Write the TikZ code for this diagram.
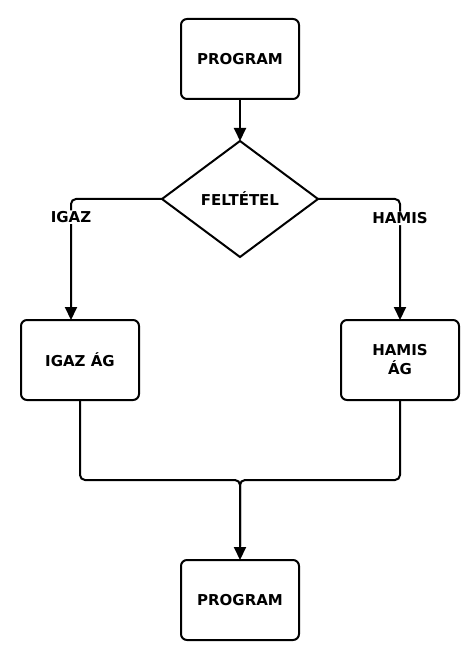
\documentclass[tikz,border=0pt]{standalone}
\usepackage{fontspec}
\setmainfont{DejaVu Sans}
\usetikzlibrary{arrows.meta, positioning, shapes.geometric}

\begin{document}
\begin{tikzpicture}[
    >={Triangle[length=13pt, width=12pt]}, line width=2pt,
    box/.style={draw, rounded corners=6pt, minimum width=118pt,
      minimum height=80pt, align=center, outer sep=0pt,
      font=\fontsize{15}{19}\selectfont\bfseries},
    cond/.style={draw, diamond, minimum width=156pt, minimum height=116pt,
      inner sep=0pt, outer sep=0pt,
      font=\fontsize{15}{19}\selectfont\bfseries},
    lbl/.style={fill=white, inner sep=1pt,
      font=\fontsize{15}{18}\selectfont\bfseries}
  ]
  \useasboundingbox (0,0) rectangle (472pt,-668pt);

  \node[box] (prog1) at (240pt,-59pt) {PROGRAM};
  \node[cond, below=42pt of prog1] (felt) {FELTÉTEL};
  \node[box, below=121pt of felt.west, xshift=-82pt] (igag) {IGAZ ÁG};
  \node[box, below=121pt of felt.east, xshift=82pt] (hamag) {HAMIS\\ÁG};
  \node[box, below=303pt of felt] (prog2) {PROGRAM};
  \coordinate[above=80pt of prog2] (join);

  \draw[->] (prog1) -- (felt);
  \draw[->, rounded corners=5pt] (felt.west)
    -| node[lbl, pos=0.575] {IGAZ} ([xshift=-9pt]igag.north);
  \draw[->, rounded corners=5pt] (felt.east)
    -| node[lbl, pos=0.58] {HAMIS} (hamag.north);

  % the two branches meet again
  \draw[->, rounded corners=5pt] (igag.south) |- (join) -- (prog2);
  \draw[rounded corners=5pt, shorten >=14pt] (hamag.south) |- (join) -- (prog2);
\end{tikzpicture}
\end{document}
